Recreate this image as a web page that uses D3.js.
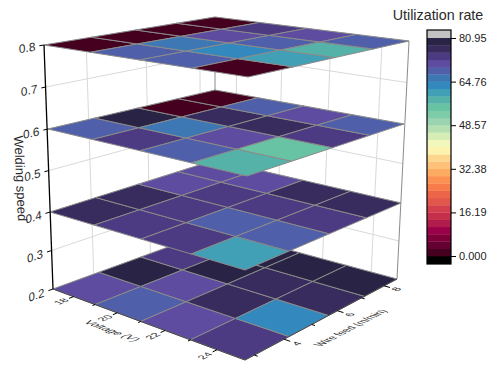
<!DOCTYPE html>
<html>
<head>
<meta charset="utf-8">
<style>
  html, body { margin: 0; padding: 0; background: #fff; }
  text { font-family: "Liberation Sans", Arial, sans-serif; fill: #2a2a2a; }
</style>
<script src="https://cdn.jsdelivr.net/npm/d3@7"></script>
</head>
<body>
<div id="chart"></div>
<script>
// axis values
var voltageTicks = [18, 20, 22, 24];
var voltageMinor = [19, 21, 23];
var wireTicks = [4, 6, 8];
var wireMinor = [3, 5, 7];
var speedTicks = [0.2, 0.3, 0.4, 0.5, 0.6, 0.7, 0.8];
var speedLevels = [0.2, 0.4, 0.6, 0.8];

// utilization rate: rows go with voltage, columns with wire feed
var rateAt02 = [[71.5, 79.5, 74, 74], [69, 71.5, 79.5, 79.5], [71.5, 77, 77, 79.5], [74, 63.5, 77, 79.5]];
var rateAt04 = [[77, 77, 71.5, 71.5], [74, 74, 74, 71.5], [74, 69, 74, 77], [61, 69, 74, 77]];
var rateAt06 = [[69, 79.5, 0, 0], [74, 66, 77, 69], [69, 71.5, 77, 71.5], [58, 55, 74, 69]];
var rateAt08 = [[0, 0, 0, 0], [69, 66, 71.5, 74], [69, 63.5, 69, 71.5], [0, 61, 58, 69]];
var rates = [rateAt02, rateAt04, rateAt06, rateAt08];

// color levels, low to high
var levelColors = ["#45001f", "#650033", "#7e0038", "#9b004a", "#b01d4d", "#c52f4c",
  "#d2404d", "#e2574b", "#ec6548", "#f67c4b", "#fb9253", "#fdaa62",
  "#fdc17a", "#fdd68e", "#fef3ae", "#f2f8bc", "#d6edb5", "#b6e0b2",
  "#9ad4b0", "#7ecbaa", "#68c3a5", "#55b2a9", "#42a0b6", "#3389bd",
  "#3d78b5", "#4f5fa9", "#5d4c9f", "#4c3a82", "#382c5f", "#292345"];
var barTicks = [0, 16.19, 32.38, 48.57, 64.76, 80.95];
var barLabels = ["0.000", "16.19", "32.38", "48.57", "64.76", "80.95"];
var rateMax = 80.95;

var width = 497, height = 381;

var svg = d3.select("#chart").append("svg").attr("width", width).attr("height", height);

var voltageDomain = [17, 25], wireDomain = [2.7, 8.6];
var vScale = d3.scaleLinear().domain(voltageDomain).range([0, 1]);
var wScale = d3.scaleLinear().domain(wireDomain).range([0, 1]);

// where the four box corners landed on screen at each level (this is our camera)
function cornerScale(r) {
  return d3.scaleLinear().domain(speedLevels).range(r);
}
var leftX = cornerScale([53, 50, 48, 44]), leftY = cornerScale([289, 212, 129, 45]);
var backX = cornerScale([215, 215, 215, 215]), backY = cornerScale([230, 160, 90, 17]);
var rightX = cornerScale([397, 401, 404, 409]), rightY = cornerScale([279, 203, 124, 41]);
var frontX = cornerScale([245, 245, 247, 248]), frontY = cornerScale([360, 270, 176, 77]);

// perspective of a unit square on a quad
function project(volt, wire, speed) {
  var u = vScale(volt), v = wScale(wire);
  var x0 = leftX(speed), y0 = leftY(speed);
  var x1 = frontX(speed), y1 = frontY(speed);
  var x2 = rightX(speed), y2 = rightY(speed);
  var x3 = backX(speed), y3 = backY(speed);
  var sx = x0 - x1 + x2 - x3, sy = y0 - y1 + y2 - y3;
  var dx1 = x1 - x2, dx2 = x3 - x2, dy1 = y1 - y2, dy2 = y3 - y2;
  var den = dx1 * dy2 - dx2 * dy1;
  var g = (sx * dy2 - dx2 * sy) / den, h = (dx1 * sy - sx * dy1) / den;
  var a = x1 - x0 + g * x1, b = x3 - x0 + h * x3;
  var d = y1 - y0 + g * y1, e = y3 - y0 + h * y3;
  var w = g * u + h * v + 1;
  return [(a * u + b * v + x0) / w, (d * u + e * v + y0) / w];
}

function segment(parent, p, q, color, lw) {
  parent.append("line")
    .attr("x1", p[0]).attr("y1", p[1]).attr("x2", q[0]).attr("y2", q[1])
    .attr("stroke", color).attr("stroke-width", lw);
}

// text lying in the box: baseline runs p0->p1, glyph "down" runs q0->q1
function planeText(parent, str, at, p0, p1, q0, q1, size, alongScale, downScale) {
  var bx = p1[0] - p0[0], by = p1[1] - p0[1], bl = Math.hypot(bx, by);
  var dx = q1[0] - q0[0], dy = q1[1] - q0[1], dl = Math.hypot(dx, dy);
  parent.append("text")
    .attr("transform", "matrix(" + [bx / bl * alongScale, by / bl * alongScale, dx / dl * downScale, dy / dl * downScale, at[0], at[1]].join(",") + ")")
    .attr("text-anchor", "middle")
    .attr("dy", "0.35em")
    .attr("font-size", size)
    .text(str);
}

var walls = svg.append("g").attr("class", "walls");
var zMin = speedTicks[0], zMax = speedTicks[speedTicks.length - 1];
var vMin = voltageDomain[0], vMax = voltageDomain[1], wMin = wireDomain[0], wMax = wireDomain[1];

// gridlines on the two back walls
voltageTicks.forEach(function (t) {
  segment(walls, project(t, wMax, zMin), project(t, wMax, zMax), "#d9d9d9", 1);
});
wireTicks.forEach(function (t) {
  segment(walls, project(vMin, t, zMin), project(vMin, t, zMax), "#d9d9d9", 1);
});
speedTicks.forEach(function (t) {
  segment(walls, project(vMin, wMin, t), project(vMin, wMax, t), "#d9d9d9", 1);
  segment(walls, project(vMin, wMax, t), project(vMax, wMax, t), "#d9d9d9", 1);
});
segment(walls, project(vMin, wMax, zMin), project(vMin, wMax, zMax), "#8a8a8a", 1);
segment(walls, project(vMax, wMax, zMin), project(vMax, wMax, zMax), "#8a8a8a", 1);

// heat levels, lowest first so the upper ones cover them
var color = d3.scaleQuantize().domain([0, rateMax]).range(levelColors);
var vEdges = d3.range(0, 5).map(function (i) { return vMin + i * (vMax - vMin) / 4; });
var wEdges = d3.range(0, 5).map(function (i) { return wMin + i * (wMax - wMin) / 4; });
var line = d3.line();

var heat = svg.append("g").attr("class", "heat");
speedLevels.forEach(function (level, k) {
  var g = heat.append("g");
  var cells = [];
  rates[k].forEach(function (row, i) {
    row.forEach(function (val, j) {
      cells.push({ i: i, j: j, value: val });
    });
  });
  g.selectAll("path").data(cells).enter().append("path")
    .attr("d", function (c) {
      return line([
        project(vEdges[c.i], wEdges[c.j], level),
        project(vEdges[c.i + 1], wEdges[c.j], level),
        project(vEdges[c.i + 1], wEdges[c.j + 1], level),
        project(vEdges[c.i], wEdges[c.j + 1], level)
      ]) + "Z";
    })
    .attr("fill", function (c) { return color(c.value); })
    .attr("stroke", "#8a8a8a")
    .attr("stroke-width", 1)
    .attr("stroke-linejoin", "round");
});

// axes
var axes = svg.append("g").attr("class", "axes");
segment(axes, project(vMin, wMin, zMin), project(vMin, wMin, zMax), "#000", 1.3);
segment(axes, project(vMin, wMin, zMin), project(vMax, wMin, zMin), "#333", 0.8);
segment(axes, project(vMax, wMin, zMin), project(vMax, wMax, zMin), "#333", 0.8);

voltageTicks.forEach(function (t) {
  segment(axes, project(t, wMin, zMin), project(t, wMin - 0.14, zMin), "#000", 1);
  planeText(axes, t, project(t, wMin - 0.38, zMin),
    project(t, wMin, zMin), project(t, wMax, zMin),
    project(vMin, wMin, zMin), project(vMax, wMin, zMin), 10.5, 1, 0.95);
});
voltageMinor.forEach(function (t) {
  segment(axes, project(t, wMin, zMin), project(t, wMin - 0.08, zMin), "#000", 1);
});
wireTicks.forEach(function (t) {
  segment(axes, project(vMax, t, zMin), project(vMax + 0.22, t, zMin), "#000", 1);
  planeText(axes, t, project(vMax + 0.45, t, zMin),
    project(vMax, wMin, zMin), project(vMax, wMax, zMin),
    project(vMin, t, zMin), project(vMax, t, zMin), 10.5, 1, 0.95);
});
wireMinor.forEach(function (t) {
  segment(axes, project(vMax, t, zMin), project(vMax + 0.12, t, zMin), "#000", 1);
});
speedTicks.forEach(function (t) {
  segment(axes, project(vMin, wMin, t), project(vMin, wMin - 0.14, t), "#000", 1);
  planeText(axes, t.toFixed(1), project(vMin, wMin - 0.5, t),
    project(vMin, wMin, t), project(vMin, wMax, t),
    project(vMin, wMin, zMax), project(vMin, wMin, zMin), 12, 1, 1);
});

planeText(axes, "Voltage (V)", project(20.85, 1.95, zMin),
  project(vMin, wMin, zMin), project(vMax, wMin, zMin),
  project(vMin, wMax, zMin), project(vMin, wMin, zMin), 12, 0.92, 0.95);
planeText(axes, "Wire feed (m/min)", project(26, 5.4, zMin),
  project(vMax, wMin, zMin), project(vMax, wMax, zMin),
  project(vMin, wMax, zMin), project(vMax, wMax, zMin), 12, 0.8, 0.95);
// this one stands nearly upright, only a few degrees off the vertical
planeText(axes, "Welding speed", project(vMin, 1.85, 0.5),
  [0, 0], [4, 88], [1, 0], [0, 0], 13, 1, 1);

// color bar
var barX = 427, barW = 24;
var barScale = d3.scaleLinear().domain([0, rateMax]).range([256, 38]);
var bar = svg.append("g").attr("class", "colorbar");

bar.append("rect").attr("x", barX).attr("y", 30).attr("width", barW).attr("height", 8).attr("fill", "#c2c2c2");
bar.append("rect").attr("x", barX).attr("y", 256).attr("width", barW).attr("height", 8).attr("fill", "#000");
bar.selectAll(".level").data(levelColors).enter().append("rect")
  .attr("class", "level")
  .attr("x", barX)
  .attr("y", function (d, i) { return barScale((i + 1) * rateMax / levelColors.length); })
  .attr("width", barW)
  .attr("height", function () { return barScale(0) - barScale(rateMax / levelColors.length) + 0.3; })
  .attr("fill", function (d) { return d; });
bar.append("rect").attr("x", barX).attr("y", 30).attr("width", barW).attr("height", 234)
  .attr("fill", "none").attr("stroke", "#000").attr("stroke-width", 1.2);

var barAxis = d3.axisRight(barScale)
  .tickValues(barTicks)
  .tickSize(5)
  .tickPadding(3)
  .tickFormat(function (d, i) { return barLabels[i]; });
bar.append("g").attr("transform", "translate(" + (barX + barW) + ",0)").call(barAxis)
  .call(function (g) { g.select(".domain").remove(); })
  .call(function (g) { g.selectAll("text").attr("font-size", 11).attr("font-family", null).style("fill", "#222"); });

svg.append("text").attr("x", 438).attr("y", 20).attr("text-anchor", "middle")
  .attr("font-size", 14.3).text("Utilization rate");
</script>
</body>
</html>
